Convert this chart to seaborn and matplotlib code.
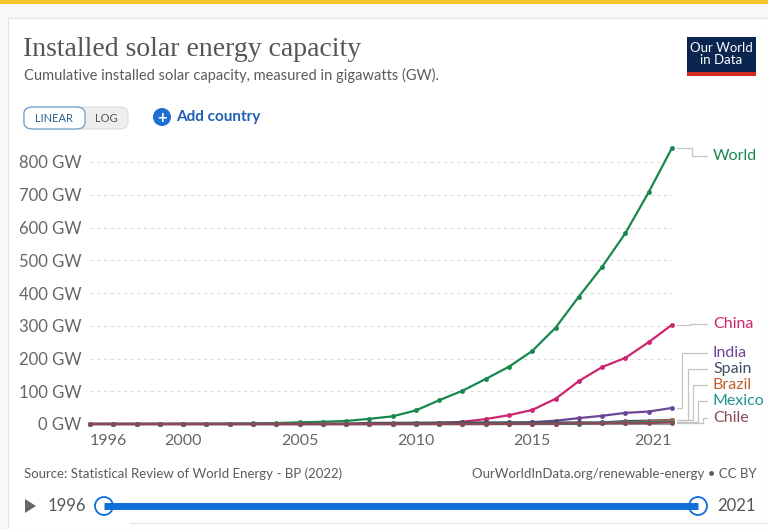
import pandas as pd
import matplotlib
matplotlib.use("Agg")
import matplotlib.pyplot as plt
import seaborn as sns
from matplotlib.patches import Rectangle, FancyBboxPatch, Ellipse, Polygon
from matplotlib.lines import Line2D

# DATA

years = list(range(1996, 2022))

world = [0.3, 0.4, 0.4, 0.5, 0.8, 1.0, 1.4, 1.9, 2.8, 5.1, 6.7, 9.2, 15.8, 23.5,
         41.5, 72.6, 101.6, 137.6, 175.0, 223.2, 294.0, 389.0, 480.0, 583.0, 708.0, 843.0]
china = [0, 0, 0, 0, 0, 0, 0, 0, 0.1, 0.1, 0.1, 0.1, 0.1, 0.4, 1.0, 3.1,
         6.7, 15.0, 27.0, 43.0, 77.0, 131.0, 174.0, 202.0, 250.0, 303.0]
india = [0, 0, 0, 0, 0, 0, 0, 0, 0, 0, 0, 0, 0, 0, 0.1, 0.6,
         1.2, 2.3, 3.4, 5.6, 10.0, 18.0, 25.0, 34.0, 38.0, 49.0]
spain = [0, 0, 0, 0, 0, 0, 0, 0, 0, 0.05, 0.15, 0.7, 3.4, 3.4, 3.9, 4.3,
         4.6, 4.7, 4.7, 4.7, 4.7, 4.7, 4.8, 8.7, 10.1, 12.5]
brazil = [0, 0, 0, 0, 0, 0, 0, 0, 0, 0, 0, 0, 0, 0, 0, 0,
          0, 0, 0, 0, 0.1, 1.1, 2.4, 4.6, 7.9, 11.5]
mexico = [0, 0, 0, 0, 0, 0, 0, 0, 0, 0, 0, 0, 0, 0, 0, 0,
          0, 0.1, 0.1, 0.2, 0.4, 1.2, 3.0, 4.4, 5.6, 7.0]
chile = [0, 0, 0, 0, 0, 0, 0, 0, 0, 0, 0, 0, 0, 0, 0, 0,
         0, 0.1, 0.4, 0.6, 1.1, 1.8, 2.4, 2.6, 3.2, 4.4]

countries = ["World", "China", "India", "Spain", "Brazil", "Mexico", "Chile"]
series = [world, china, india, spain, brazil, mexico, chile]

colors = {
    "World": "#18884f",
    "China": "#cc2670",
    "India": "#6c4596",
    "Spain": "#3f4e60",
    "Brazil": "#c0602a",
    "Mexico": "#1c9390",
    "Chile": "#8a4a55",
}

tick_years = [1996, 2000, 2005, 2010, 2015, 2021]
y_ticks = [0, 100, 200, 300, 400, 500, 600, 700, 800]

# label positions on the right (pixels from top)
label_py = {"World": 156, "China": 324, "India": 353, "Spain": 369,
            "Brazil": 385, "Mexico": 401, "Chile": 418}
elbow_px = {"World": 692, "China": 690, "India": 682, "Spain": 688,
            "Brazil": 693, "Mexico": 698, "Chile": 703}

rows = []
for name, vals in zip(countries, series):
    for yr, v in zip(years, vals):
        rows.append({"year": yr, "value": v, "country": name})
df = pd.DataFrame(rows)

# FIGURE

W, H = 768, 529
sns.set_style("white")
plt.rcParams["font.family"] = ["Lato", "DejaVu Sans"]

fig = plt.figure(figsize=(W / 100, H / 100), dpi=100)
fig.patch.set_facecolor("#f7f8fa")


def fx(px):
    return px / W


def fy(py):
    return 1 - py / H


def dot(cx, cy, r, **kw):
    fig.add_artist(Ellipse((fx(cx), fy(cy)), 2 * r / W, 2 * r / H,
                           transform=fig.transFigure, **kw))


# page decoration
fig.add_artist(Rectangle((fx(8), 0), fx(760), fy(18), transform=fig.transFigure,
                         facecolor="white", edgecolor="#e4e4e4", lw=0.8, zorder=-10))
fig.add_artist(Rectangle((0, fy(4)), 1, 4 / H, transform=fig.transFigure,
                         facecolor="#f8c52c", edgecolor="none", zorder=-10))

# title and subtitle
fig.text(fx(23), fy(50), "Installed solar energy capacity", family="Liberation Serif",
         fontsize=20, color="#555555", va="center")
fig.text(fx(24), fy(75), "Cumulative installed solar capacity, measured in gigawatts (GW).",
         fontsize=10.5, color="#5b5b5b", va="center")

# logo
fig.add_artist(Rectangle((fx(687), fy(76)), fx(69), 39 / H, transform=fig.transFigure,
                         facecolor="#0b2551", edgecolor="none"))
fig.add_artist(Rectangle((fx(687), fy(76)), fx(69), 4 / H, transform=fig.transFigure,
                         facecolor="#d42b21", edgecolor="none"))
fig.text(fx(721), fy(54), "Our World\nin Data", color="white", fontsize=9.5,
         ha="center", va="center", linespacing=1.0)

# LINEAR / LOG toggle
fig.add_artist(FancyBboxPatch((fx(24), fy(129)), fx(104), 22 / H,
                              boxstyle="round,pad=0,rounding_size=0.012",
                              transform=fig.transFigure, facecolor="#eeeeee",
                              edgecolor="#dddddd", lw=0.8))
fig.add_artist(FancyBboxPatch((fx(24), fy(129)), fx(61), 22 / H,
                              boxstyle="round,pad=0,rounding_size=0.012",
                              transform=fig.transFigure, facecolor="white",
                              edgecolor="#6f9cc9", lw=0.9))
fig.text(fx(54), fy(118), "LINEAR", fontsize=8, color="#2a5d92", ha="center", va="center")
fig.text(fx(106), fy(118), "LOG", fontsize=8, color="#555555", ha="center", va="center")

# add country
dot(162, 117, 9, facecolor="#1e6fd4", edgecolor="none")
fig.text(fx(162), fy(117.5), "+", color="white", fontsize=12, fontweight="bold",
         ha="center", va="center")
fig.text(fx(176), fy(117), "Add country", color="#1f5fb5", fontsize=11,
         fontweight="bold", va="center")

# AXES
scale = (424 - 162) / 800
ymax = 845
ax = fig.add_axes([fx(90), fy(424), fx(582), ymax * scale / H])
ax.set_facecolor("none")

sns.lineplot(data=df, x="year", y="value", hue="country", hue_order=countries,
             palette=colors, marker="o", markersize=3.5, markeredgewidth=0,
             linewidth=1.6, legend=False, ax=ax, clip_on=False)

ax.set_xlim(1996, 2021)
ax.set_ylim(0, ymax)
ax.set_xlabel("")
ax.set_ylabel("")

ax.set_yticks(y_ticks)
ax.set_yticklabels([f"{v} GW" for v in y_ticks])
ax.set_xticks(tick_years)
ax.set_xticklabels([str(y) for y in tick_years])
xl = ax.get_xticklabels()
xl[0].set_ha("left")
xl[-1].set_ha("right")

ax.tick_params(axis="y", length=0, pad=6, labelsize=12, labelcolor="#666666")
ax.tick_params(axis="x", length=4, width=0.8, color="#999999", pad=3,
               labelsize=11.5, labelcolor="#666666")

ax.grid(axis="y", color="#dddddd", linestyle=(0, (3, 3)), linewidth=0.8)
for s in ["top", "right", "left"]:
    ax.spines[s].set_visible(False)
ax.spines["bottom"].set_color("#999999")
ax.spines["bottom"].set_linewidth(0.8)
ax.spines["bottom"].set_zorder(0)

# right hand labels with connectors
fig.canvas.draw()
inv = fig.transFigure.inverted()
for name, vals in zip(countries, series):
    px, py = ax.transData.transform((years[-1], vals[-1]))
    x0, y0 = inv.transform((px + 5, py))
    ly = fy(label_py[name])
    ex = fx(elbow_px[name])
    fig.add_artist(Line2D([x0, ex, ex, fx(707)], [y0, y0, ly, ly],
                          transform=fig.transFigure, color="#c4c4c4", lw=0.9))
    fig.text(fx(713), ly, name, color=colors[name], fontsize=11.5, va="center")

# source line
fig.text(fx(24), fy(474), "Source: Statistical Review of World Energy - BP (2022)",
         fontsize=9.5, color="#5b5b5b", va="center")
fig.text(fx(757), fy(474), "OurWorldInData.org/renewable-energy \u2022 CC BY",
         fontsize=9.5, color="#5b5b5b", va="center", ha="right")

# timeline slider
fig.add_artist(Polygon([(fx(25), fy(499)), (fx(25), fy(513)), (fx(36), fy(506))],
                       closed=True, transform=fig.transFigure, facecolor="#666666",
                       edgecolor="none"))
fig.text(fx(48), fy(506), "1996", fontsize=12, color="#555555", va="center")
fig.add_artist(Line2D([fx(104), fx(698)], [fy(506), fy(506)], transform=fig.transFigure,
                      color="#0f6fd8", lw=5, solid_capstyle="butt"))
for cx in [104, 698]:
    dot(cx, 506, 9, facecolor="white", edgecolor="#0f6fd8", lw=1.3)
fig.text(fx(717), fy(506), "2021", fontsize=12, color="#555555", va="center")

# faint table edge at the bottom
fig.add_artist(Line2D([fx(130), 1], [fy(523), fy(523)], transform=fig.transFigure,
                      color="#e2e2e2", lw=0.8))

fig.savefig("out.png", dpi=100)
